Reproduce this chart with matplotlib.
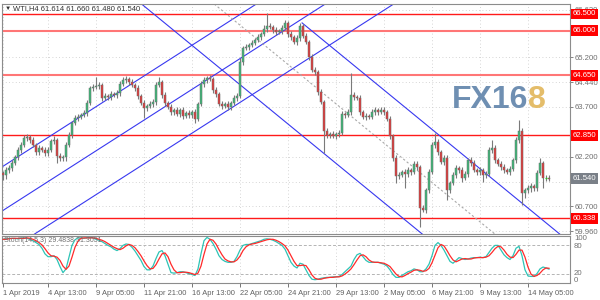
import matplotlib
matplotlib.use('Agg')
import matplotlib.pyplot as plt
import matplotlib.transforms as mtrans
import numpy as np

plt.rcParams['font.family'] = ['Liberation Sans', 'DejaVu Sans']

# ---------------- data (WTI, H4) ----------------
first_open = 61.70
closes = [61.65, 61.80, 61.86, 62.01, 62.19, 62.40, 62.55, 62.76, 62.79, 62.70,
          62.55, 62.34, 62.46, 62.40, 62.31, 62.40, 62.67, 62.70, 62.22, 62.16,
          62.19, 62.55, 62.85, 63.21, 63.36, 63.40, 63.46, 63.52, 63.82, 64.27,
          64.30, 64.33, 64.36, 63.97, 64.03, 64.00, 64.09, 64.06, 64.12, 64.39,
          64.51, 64.54, 64.45, 64.36, 64.27, 64.03, 63.82, 63.67, 63.73, 63.79,
          63.85, 64.36, 64.45, 64.06, 63.82, 63.70, 63.55, 63.61, 63.49, 63.61,
          63.43, 63.52, 63.46, 63.55, 63.34, 63.79, 64.39, 64.51, 64.57, 64.54,
          64.21, 64.09, 63.79, 63.73, 63.79, 63.70, 63.82, 63.97, 64.03, 65.05,
          65.47, 65.51, 65.57, 65.63, 65.72, 65.81, 65.90, 66.05, 66.14, 66.11,
          66.02, 65.96, 65.99, 66.08, 66.23, 65.90, 65.81, 65.66, 65.78, 66.14,
          65.84, 65.66, 65.20, 64.81, 64.75, 64.15, 63.85, 62.97, 62.85, 62.88,
          62.82, 62.88, 62.91, 63.49, 63.46, 63.55, 64.06, 64.00, 63.97, 63.55,
          63.40, 63.43, 63.40, 63.55, 63.61, 63.55, 63.61, 63.55, 63.34, 62.82,
          62.16, 61.62, 61.65, 61.74, 61.68, 61.80, 61.74, 61.98, 61.89, 60.65,
          60.59, 61.20, 61.74, 62.55, 62.64, 62.34, 62.04, 62.16, 61.20, 61.41,
          61.65, 61.86, 61.80, 61.56, 61.68, 62.10, 62.01, 61.80, 61.74, 61.80,
          61.65, 61.68, 62.40, 62.46, 62.10, 61.98, 61.89, 61.80, 61.74, 61.83,
          62.10, 62.70, 62.97, 61.11, 61.20, 61.26, 61.32, 61.26, 61.71, 62.01,
          61.56, 61.56, 61.54]

up_wick = [0.06, 0.08, 0.10, 0.08, 0.06, 0.08, 0.10, 0.08, 0.10, 0.06,
           0.08, 0.06, 0.10, 0.06, 0.08, 0.10, 0.06, 0.12, 0.06, 0.08,
           0.06, 0.10, 0.08, 0.06, 0.10, 0.08, 0.06, 0.10, 0.08, 0.06,
           0.10, 0.27, 0.08, 0.06, 0.10, 0.06, 0.08, 0.06, 0.10, 0.08,
           0.10, 0.08, 0.06, 0.10, 0.06, 0.08, 0.06, 0.08, 0.06, 0.10,
           0.08, 0.10, 0.15, 0.06, 0.08, 0.06, 0.10, 0.06, 0.08, 0.06,
           0.08, 0.06, 0.10, 0.06, 0.08, 0.06, 0.08, 0.10, 0.06, 0.08,
           0.06, 0.08, 0.06, 0.10, 0.06, 0.08, 0.06, 0.10, 0.08, 0.12,
           0.06, 0.08, 0.06, 0.10, 0.06, 0.08, 0.06, 0.12, 0.39, 0.08,
           0.06, 0.10, 0.06, 0.08, 0.09, 0.06, 0.08, 0.06, 0.10, 0.08,
           0.06, 0.08, 0.06, 0.10, 0.08, 0.06, 0.10, 0.06, 0.08, 0.06,
           0.10, 0.06, 0.08, 0.10, 0.06, 0.08, 0.66, 0.08, 0.06, 0.10,
           0.06, 0.08, 0.06, 0.10, 0.08, 0.06, 0.10, 0.08, 0.06, 0.08,
           0.06, 0.08, 0.10, 0.06, 0.10, 0.08, 0.06, 0.10, 0.08, 0.06,
           0.08, 0.06, 0.10, 0.10, 0.27, 0.08, 0.06, 0.10, 0.08, 0.06,
           0.10, 0.08, 0.06, 0.10, 0.08, 0.06, 0.10, 0.08, 0.06, 0.10,
           0.06, 0.08, 0.10, 0.24, 0.08, 0.06, 0.10, 0.08, 0.06, 0.08,
           0.06, 0.10, 0.34, 0.08, 0.06, 0.10, 0.08, 0.06, 0.08, 0.15,
           0.06, 0.08, 0.10]

down_wick = [0.15, 0.12, 0.10, 0.08, 0.06, 0.10, 0.08, 0.06, 0.10, 0.08,
             0.06, 0.10, 0.08, 0.06, 0.10, 0.08, 0.06, 0.08, 0.20, 0.10,
             0.08, 0.12, 0.06, 0.08, 0.06, 0.10, 0.08, 0.06, 0.08, 0.06,
             0.08, 0.06, 0.10, 0.08, 0.06, 0.10, 0.08, 0.06, 0.10, 0.08,
             0.06, 0.08, 0.10, 0.06, 0.08, 0.10, 0.06, 0.30, 0.08, 0.06,
             0.10, 0.08, 0.06, 0.10, 0.08, 0.06, 0.10, 0.08, 0.06, 0.10,
             0.08, 0.06, 0.10, 0.08, 0.12, 0.08, 0.06, 0.10, 0.08, 0.06,
             0.08, 0.10, 0.06, 0.08, 0.06, 0.10, 0.08, 0.06, 0.08, 0.06,
             0.08, 0.06, 0.10, 0.06, 0.08, 0.06, 0.10, 0.06, 0.08, 0.06,
             0.10, 0.08, 0.06, 0.08, 0.06, 0.10, 0.08, 0.06, 0.10, 0.08,
             0.06, 0.08, 0.10, 0.06, 0.08, 0.10, 0.06, 0.66, 0.08, 0.10,
             0.06, 0.08, 0.10, 0.06, 0.08, 0.06, 0.10, 0.08, 0.06, 0.08,
             0.06, 0.10, 0.08, 0.06, 0.08, 0.10, 0.06, 0.08, 0.06, 0.08,
             0.10, 0.20, 0.08, 0.06, 0.42, 0.08, 0.10, 0.06, 0.08, 0.57,
             0.06, 0.10, 0.08, 0.06, 0.08, 0.10, 0.06, 0.08, 0.30, 0.08,
             0.06, 0.10, 0.08, 0.12, 0.06, 0.08, 0.10, 0.06, 0.08, 0.10,
             0.20, 0.08, 0.06, 0.08, 0.10, 0.06, 0.08, 0.10, 0.06, 0.08,
             0.06, 0.08, 0.10, 0.37, 0.15, 0.10, 0.12, 0.08, 0.10, 0.06,
             0.30, 0.08, 0.06]

stoch_k = [93, 94, 95, 95, 95, 94, 96, 96, 95, 93,
           90, 86, 82, 74, 62, 56, 56, 58, 50, 35,
           22, 30, 55, 80, 92, 96, 96, 95, 96, 97,
           96, 93, 91, 88, 84, 80, 77, 72, 69, 73,
           80, 83, 82, 76, 68, 58, 48, 35, 28, 28,
           36, 52, 66, 69, 58, 40, 22, 21, 22, 24,
           24, 22, 20, 18, 16, 30, 62, 90, 97, 93,
           84, 72, 58, 50, 46, 44, 44, 46, 56, 70,
           80, 82, 82, 84, 86, 88, 90, 93, 94, 93,
           91, 88, 84, 80, 72, 58, 44, 36, 32, 42,
           40, 28, 16, 8, 7, 8, 10, 11, 12, 12,
           13, 13, 14, 18, 24, 30, 36, 50, 60, 63,
           56, 48, 44, 44, 44, 44, 42, 40, 36, 28,
           18, 12, 12, 16, 20, 24, 26, 30, 28, 24,
           24, 30, 40, 58, 80, 86, 80, 70, 58, 46,
           42, 48, 54, 52, 50, 51, 53, 54, 54, 55,
           54, 56, 65, 74, 80, 80, 70, 60, 54, 50,
           58, 74, 78, 58, 28, 15, 14, 14, 20, 30,
           34, 32, 29.4838]

stoch_d = [93, 93, 94, 95, 95, 95, 95, 95, 96, 95,
           93, 90, 86, 81, 73, 64, 58, 57, 55, 48,
           36, 29, 36, 55, 76, 89, 95, 96, 96, 96,
           96, 95, 93, 91, 88, 84, 80, 76, 73, 71,
           74, 79, 82, 80, 75, 67, 58, 47, 37, 30,
           31, 39, 51, 62, 64, 56, 40, 28, 22, 22,
           23, 23, 22, 20, 18, 21, 36, 61, 83, 93,
           91, 83, 71, 60, 51, 47, 45, 45, 49, 57,
           69, 77, 81, 83, 84, 86, 88, 90, 92, 93,
           93, 91, 88, 84, 79, 70, 58, 46, 37, 37,
           38, 37, 28, 17, 10, 8, 8, 10, 11, 12,
           12, 13, 13, 15, 19, 24, 30, 39, 49, 58,
           60, 56, 49, 45, 44, 44, 43, 42, 39, 35,
           27, 19, 14, 13, 16, 20, 23, 27, 28, 27,
           25, 26, 31, 43, 59, 75, 82, 79, 69, 58,
           49, 45, 48, 51, 52, 51, 51, 53, 54, 54,
           54, 55, 58, 65, 73, 78, 77, 70, 61, 55,
           54, 61, 70, 70, 55, 34, 19, 14, 16, 21,
           28, 32, 31.3051]

levels = [66.500, 66.000, 64.650, 62.850, 60.338]
level_colors = ['#ff1a1a', '#ff7676', '#ff7676', '#ff1a1a', '#ff1a1a']
level_widths = [1.0, 1.5, 1.5, 1.0, 1.0]
last_price = 61.540

price_ticks = [66.630, 65.200, 64.440, 63.700, 62.200, 61.450, 60.700, 59.960]
time_tick_bars = [0, 15, 31, 47, 63, 79, 95, 111, 127, 143, 159, 175]
time_tick_labels = ['1 Apr 2019', '4 Apr 13:00', '9 Apr 05:00', '11 Apr 21:00', '16 Apr 13:00',
                    '22 Apr 05:00', '24 Apr 21:00', '29 Apr 13:00', '2 May 05:00',
                    '6 May 21:00', '9 May 13:00', '14 May 05:00']

# trend-line objects: (bar, price) anchor pairs
channel_up = [((0, 61.91), (100, 67.70)),
              ((0, 60.58), (100, 66.37)),
              ((0, 59.26), (100, 65.05))]
channel_down_full = [((69, 65.11), (150, 59.11))]
channel_down_ray = [((99.7, 66.23), (200, 58.80))]
median_line = ((70, 66.83), (190, 57.94))

# ---------------- figure ----------------
W, H = 600, 300
fig = plt.figure(figsize=(6, 3), dpi=100)
fig.patch.set_facecolor('white')


def rect(l, t, r, b):
    return [l / W, 1 - b / H, (r - l) / W, (b - t) / H]


ax = fig.add_axes(rect(2, 4, 570, 234))
ax2 = fig.add_axes(rect(2, 236, 570, 283))

n = len(closes)
x = np.arange(n)
c = np.array(closes)
o = np.array([first_open] + closes[:-1])
hi = np.maximum(o, c) + np.array(up_wick)
lo = np.minimum(o, c) - np.array(down_wick)

xlim = (-0.33, 189.0)
for a in (ax, ax2):
    a.set_xlim(*xlim)
    for s in a.spines.values():
        s.set_color('#8c8c8c')
        s.set_linewidth(0.8)
    a.set_xticks(time_tick_bars)
    a.grid(True, ls=(0, (1, 3)), color='#c8c8c8', lw=0.6)
    a.set_axisbelow(True)

ax.set_ylim(59.87, 66.80)

# horizontal levels
for lv, col, lw in zip(levels, level_colors, level_widths):
    ax.axhline(lv, color=col, lw=lw, zorder=2)

# channels
for p1, p2 in channel_up + channel_down_full:
    ax.axline(p1, p2, color='#3838f0', lw=0.8, zorder=2)
for p1, p2 in channel_down_ray:
    ax.plot([p1[0], p2[0]], [p1[1], p2[1]], color='#3838f0', lw=0.8, zorder=2)
ax.axline(median_line[0], median_line[1], color='#a8a8a8', lw=0.8, ls=(0, (2, 2)), zorder=2)

# candles
ax.vlines(x, lo, hi, color='#7a7a7a', lw=0.8, zorder=3)
body = c - o
cols = np.where(body > 0, '#3cb878', '#e23a3a')
doji = np.abs(body) < 0.015
ax.bar(x[~doji], body[~doji], bottom=o[~doji], width=0.62, color=cols[~doji],
       edgecolor='#6e6e6e', linewidth=0.35, zorder=4)
ax.hlines(o[doji], x[doji] - 0.4, x[doji] + 0.4, color='#22cc22', lw=0.9, zorder=4)

# right axis
FS = 5.6
ax.yaxis.tick_right()
ax.set_yticks(price_ticks)
ax.set_yticklabels([f'{v:.3f}' for v in price_ticks])
ax.tick_params(axis='y', labelsize=FS, colors='#707070', length=2.5, width=0.6, pad=1.0)
ax.tick_params(axis='x', labelbottom=False, length=0)

tr = mtrans.blended_transform_factory(ax.transAxes, ax.transData)
for lv in levels:
    ax.text(1.0045, lv, f'{lv:.3f}', transform=tr, ha='left', va='center', fontsize=FS,
            color='white', zorder=10, clip_on=False,
            bbox=dict(boxstyle='square,pad=0.25', fc='#ff0000', ec='none'))
ax.text(1.0045, last_price, f'{last_price:.3f}', transform=tr, ha='left', va='center',
        fontsize=FS, color='white', zorder=10, clip_on=False,
        bbox=dict(boxstyle='square,pad=0.25', fc='#7a8088', ec='none'))

# stochastic
ax2.set_ylim(0, 100)
ax2.axhline(80, color='#b4b4b4', lw=0.7, ls=(0, (3, 2)))
ax2.axhline(20, color='#b4b4b4', lw=0.7, ls=(0, (3, 2)))
ax2.plot(x, stoch_k, color='#2ec4b6', lw=0.9, zorder=3)
ax2.plot(x, stoch_d, color='#ff2a2a', lw=0.9, zorder=4)
ax2.set_yticks([])
ax2.set_xticklabels(time_tick_labels)
ax2.tick_params(axis='x', labelsize=5.4, colors='#606060', length=3, width=0.6, pad=2)
for t in ax2.get_xticklabels():
    t.set_ha('left')
for val, ypx in [('100', 238.5), ('80', 246), ('20', 273.5), ('0', 280.5)]:
    fig.text(574 / W, 1 - ypx / H, val, fontsize=FS, color='#707070', ha='left', va='center')

# texts
fig.text(5 / W, 1 - 8.5 / H, '\u25BC', fontsize=4.5, color='#303030', ha='left', va='center')
fig.text(13 / W, 1 - 8.5 / H, 'WTI,H4 61.614 61.660 61.480 61.540', fontsize=5.4,
         color='#303030', ha='left', va='center')
fig.text(4 / W, 1 - 241 / H, 'Stoch(14,5,3) 29.4838 31.3051', fontsize=5.0,
         color='#707070', ha='left', va='center')

# watermark
t1 = fig.text(452 / W, 1 - 108 / H, 'FX16', fontsize=23, fontweight='bold',
              color='#5f83aa', ha='left', va='baseline', alpha=0.9)
fig.canvas.draw()
bb = t1.get_window_extent(renderer=fig.canvas.get_renderer())
fig.text(bb.x1 / W, 1 - 108 / H, '8', fontsize=23, fontweight='bold',
         color='#e2b65a', ha='left', va='baseline', alpha=0.9)

fig.savefig('out.png', dpi=100)
